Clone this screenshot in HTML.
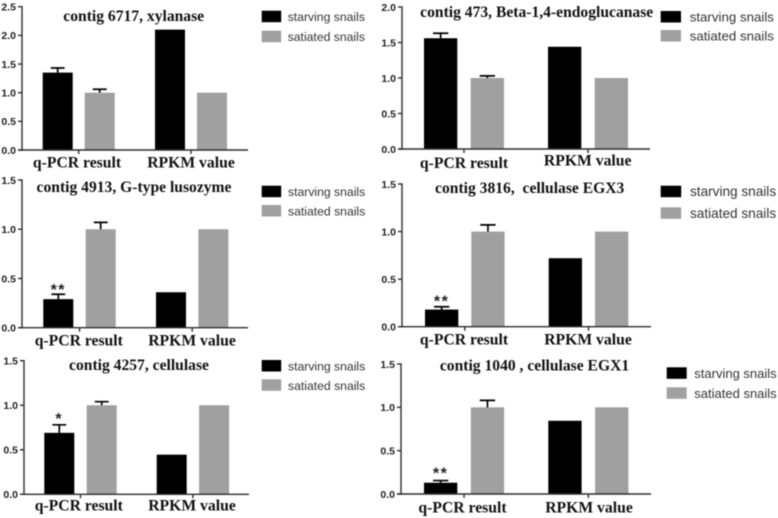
<!DOCTYPE html>
<html lang="en">
<head>
<meta charset="utf-8">
<title>Gene expression in starving and satiated snails</title>
<style>
html,body{margin:0;padding:0;background:#fff;width:778px;height:518px;overflow:hidden}
svg{display:block;filter:blur(0.4px)}
.tick{font:bold 10.5px "Liberation Sans",sans-serif;fill:#222;text-anchor:end}
.title{font:bold 15.6px "Liberation Serif",serif;fill:#111;text-anchor:middle}
.cat{font:bold 15.7px "Liberation Serif",serif;fill:#111;text-anchor:middle}
.leg{font-family:"Liberation Sans",sans-serif;fill:#333}
.sig{font:bold 16px "Liberation Sans",sans-serif;fill:#222;text-anchor:middle;letter-spacing:1.5px}
</style>
</head>
<body>
<svg id="figure" width="778" height="518" viewBox="0 0 778 518" xmlns="http://www.w3.org/2000/svg"></svg>
<script>
// ---- data ----
const categories = ["q-PCR result", "RPKM value"];
const seriesNames = ["starving snails", "satiated snails"];
const panelTitles = [
  "contig 6717, xylanase",
  "contig 473, Beta-1,4-endoglucanase",
  "contig 4913, G-type lusozyme",
  "contig 3816,  cellulase EGX3",
  "contig 4257, cellulase",
  "contig 1040 , cellulase EGX1"
];
const starvingValues = [[1.35, 2.1], [1.56, 1.44], [0.29, 0.36], [0.18, 0.72], [0.69, 0.445], [0.13, 0.845]];
const satiatedValues = [[1.0, 1.0], [1.0, 1.0], [1.0, 1.0], [1.0, 1.0], [1.0, 1.0], [1.0, 1.0]];
const starvingErrorTops = [1.43, 1.63, 0.34, 0.21, 0.78, 0.155];
const satiatedErrorTops = [1.06, 1.03, 1.07, 1.07, 1.04, 1.08];
const significance = ["", "", "**", "**", "*", "**"];
const tickLabels = [
  ["0.0", "0.5", "1.0", "1.5", "2.0", "2.5"],
  ["0.0", "0.5", "1.0", "1.5", "2.0"],
  ["0.0", "0.5", "1.0", "1.5"],
  ["0.0", "0.5", "1.0", "1.5"],
  ["0.0", "0.5", "1.0", "1.5"],
  ["0.0", "0.5", "1.0", "1.5"]
];

// ---- panel geometry (layout only) ----
const layouts = [
  {ax:22,  top:6.7,  base:150,   right:248, first:42.7, w:30,   inner:42,   group:112.3, tx:133.7, ty:21,  c1:77,    c1y:167.7, c2:191,   c2y:167.7, sw:261.7, swW:19.5, s1:10.7,  s2:30.7,  lx:287.7, lf:12.2, sigDy:0},
  {ax:402, top:7,    base:149,   right:650, first:424,  w:33.3, inner:46.7, group:124,   tx:536.7, ty:17,  c1:464,   c1y:168,   c2:587.7, c2y:165.7, sw:660.7, swW:20.3, s1:11,    s2:30,    lx:689.7, lf:13.3, sigDy:0},
  {ax:22,  top:180,  base:327.7, right:248, first:43.3, w:30,   inner:42.4, group:112.7, tx:134,   ty:192, c1:78.8,  c1y:345.7, c2:192,   c2y:345.7, sw:261.7, swW:19.5, s1:185.7, s2:205,   lx:288,   lf:12.2, sigDy:1},
  {ax:402, top:184,  base:326.7, right:651, first:425,  w:33.3, inner:46.3, group:123.7, tx:529.7, ty:193, c1:464,   c1y:344.7, c2:588,   c2y:344.7, sw:660.7, swW:20.5, s1:185.7, s2:207.3, lx:690,   lf:13.6, sigDy:0},
  {ax:24,  top:360.7,base:494.3, right:249, first:44.3, w:30,   inner:42.4, group:112.4, tx:139,   ty:370, c1:78.8,  c1y:510.7, c2:192,   c2y:510.7, sw:261.7, swW:19.5, s1:360,   s2:379.3, lx:288,   lf:12.2, sigDy:-1},
  {ax:401, top:364,  base:494,   right:651, first:424,  w:33.3, inner:46.8, group:124.3, tx:534.5, ty:370.7,c1:462.5, c1y:512.3, c2:589,   c2y:512.3, sw:666.7, swW:20,   s1:367.3, s2:387.3, lx:694.3, lf:13,   sigDy:-2}
];

const SVG_NS = "http://www.w3.org/2000/svg";
const figure = document.getElementById("figure");
const AXIS_COLOR = "#2e2e2e";
const SERIES_COLORS = ["#000000", "#a0a0a0"];

function make(tag, parent, attrs, text) {
  const el = document.createElementNS(SVG_NS, tag);
  for (const k in attrs) el.setAttribute(k, attrs[k]);
  if (text !== undefined) el.textContent = text;
  parent.appendChild(el);
  return el;
}

function yScale(p, value) {
  const L = layouts[p];
  const maxValue = parseFloat(tickLabels[p][tickLabels[p].length - 1]);
  return L.base - (value / maxValue) * (L.base - L.top);
}

function xScale(p, groupIndex, seriesIndex) {
  const L = layouts[p];
  return L.first + groupIndex * L.group + seriesIndex * L.inner;
}

function drawBar(p, g, groupIndex, seriesIndex, value) {
  const L = layouts[p];
  const y = yScale(p, value);
  const bar = make("rect", g, {x: xScale(p, groupIndex, seriesIndex), y: y, width: L.w, height: L.base - y, fill: SERIES_COLORS[seriesIndex]});
  
  
}

function drawError(p, g, seriesIndex, value, top) {
  const L = layouts[p];
  const cx = xScale(p, 0, seriesIndex) + L.w / 2;
  const yBar = yScale(p, value);
  const yTop = yScale(p, top);
  const capHalf = L.w * 0.23;
  const err = make("path", g, {d: "M" + cx + " " + yBar + "V" + yTop + "M" + (cx - capHalf) + " " + yTop + "H" + (cx + capHalf), stroke: "#000", "stroke-width": 1.7, fill: "none"});
  
  
}

function drawPanel(p) {
  const L = layouts[p];
  const g = make("g", figure, {});
  
  

  categories.forEach(function (cat, i) {
    drawBar(p, g, i, 0, starvingValues[p][i]);
    drawBar(p, g, i, 1, satiatedValues[p][i]);
  });
  drawError(p, g, 0, starvingValues[p][0], starvingErrorTops[p]);
  drawError(p, g, 1, satiatedValues[p][0], satiatedErrorTops[p]);

  const yAxis = make("line", g, {x1: L.ax, x2: L.ax, y1: L.top - 0.7, y2: L.base + 0.7, stroke: AXIS_COLOR, "stroke-width": 1.4});
  
  
  const xAxis = make("line", g, {x1: L.ax - 4, x2: L.right, y1: L.base, y2: L.base, stroke: AXIS_COLOR, "stroke-width": 1.4});
  
  

  tickLabels[p].forEach(function (label) {
    const y = yScale(p, parseFloat(label));
    const tick = make("line", g, {x1: L.ax - 4, x2: L.ax, y1: y, y2: y, stroke: AXIS_COLOR, "stroke-width": 1.4});
    
    
    const text = make("text", g, {x: L.ax - 6, y: y + 3.8, class: "tick"}, label);
    
    
  });

  categories.forEach(function (cat, i) {
    const mid = (xScale(p, i, 0) + xScale(p, i, 1) + L.w) / 2;
    const tick = make("line", g, {x1: mid, x2: mid, y1: L.base, y2: L.base + 4, stroke: AXIS_COLOR, "stroke-width": 1.4});
    
    
    const text = make("text", g, {x: i === 0 ? L.c1 : L.c2, y: i === 0 ? L.c1y : L.c2y, class: "cat"}, cat);
    
    
  });

  const title = make("text", g, {x: L.tx, y: L.ty, class: "title", style: "white-space:pre"}, panelTitles[p]);
  
  

  if (significance[p]) {
    const sx = xScale(p, 0, 0) + L.w / 2;
    const sig = make("text", g, {x: sx, y: yScale(p, starvingErrorTops[p]) + L.sigDy, class: "sig"}, significance[p]);
    
    
  }

  seriesNames.forEach(function (name, i) {
    const sy = i === 0 ? L.s1 : L.s2;
    const swatch = make("rect", g, {x: L.sw, y: sy, width: L.swW, height: 11.5, fill: SERIES_COLORS[i]});
    
    
    const text = make("text", g, {x: L.lx, y: sy + 10.5, class: "leg", "font-size": L.lf}, name);
    
    
  });
}

layouts.forEach(function (L, p) { drawPanel(p); });
</script>
</body>
</html>
